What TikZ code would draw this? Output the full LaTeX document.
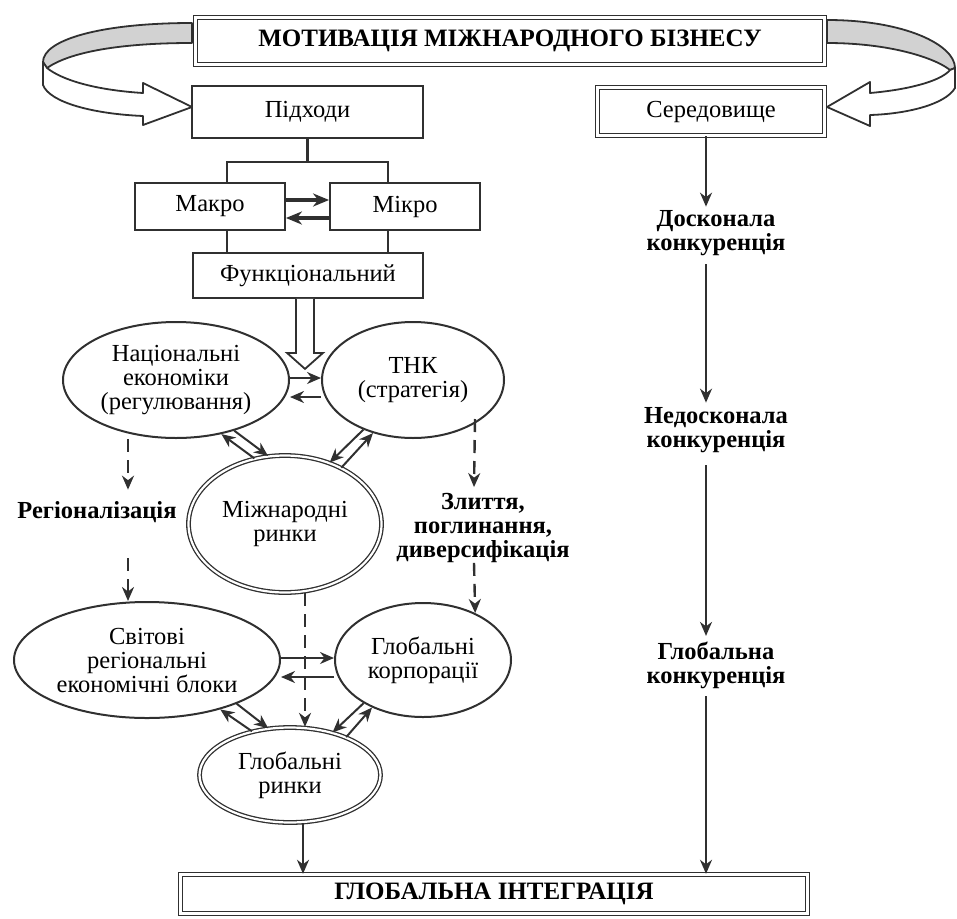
\documentclass[tikz,border=0pt]{standalone}
\usepackage{fontspec}
\setmainfont{Liberation Serif}
\usetikzlibrary{arrows.meta,shapes.geometric}
\definecolor{ink}{HTML}{303030}
\definecolor{fold}{HTML}{D2D2D2}

\begin{document}
\begin{tikzpicture}[x=1pt,y=-1pt,
  every node/.style={inner sep=0pt, align=center, font=\fontsize{24.5}{24}\selectfont},
  rbox/.style={draw=ink, line width=1.8pt, rectangle},
  dbox/.style={draw=ink, line width=1.4pt, double, double distance=2.5pt, rectangle, fill=white},
  oval/.style={draw=ink, line width=2pt, ellipse, inner sep=-14pt},
  doval/.style={draw=ink, line width=1.3pt, double, double distance=2.2pt, ellipse, inner sep=-14pt},
  caption/.style={font=\bfseries\fontsize{24.5}{24}\selectfont},
  banner/.style={font=\bfseries\fontsize{25}{24}\selectfont},
  link/.style={draw=ink, line width=2pt, -{Stealth[length=14pt,width=12pt,inset=4.5pt]}},
  heavy/.style={draw=ink, line width=3.2pt, -{Stealth[length=16pt,width=13pt,inset=5pt]}},
  dlink/.style={draw=ink, line width=2.4pt, dash pattern=on 13pt off 8pt, -{Stealth[length=14pt,width=12pt,inset=4.5pt]}},
  tree/.style={draw=ink, line width=2.2pt},
  ribbon/.style={draw=ink, line width=1.8pt, line join=round},
]
\useasboundingbox (0,0) rectangle (957,918);

% curved ribbon arrows from the title
\filldraw[ribbon, fill=fold] (192,23) .. controls (100,23) and (43,40) .. (43,62) -- (47,68)
  .. controls (70,52) and (120,43) .. (192,43) -- cycle;
\filldraw[ribbon, fill=white] (43,62) -- (43,85) .. controls (50,103) and (95,114) .. (143,116)
  -- (143,125) -- (192,107) -- (143,83) -- (143,93) .. controls (95,90) and (62,80) .. (47,68) -- cycle;
\filldraw[ribbon, fill=fold] (827,20) .. controls (905,20) and (955,45) .. (955,68) -- (950,70)
  .. controls (935,58) and (890,43) .. (827,43) -- cycle;
\filldraw[ribbon, fill=white] (955,68) -- (955,88) .. controls (945,105) and (905,114) .. (870,115)
  -- (870,126) -- (827,107) -- (870,82) -- (870,93) .. controls (905,90) and (940,82) .. (950,70) -- cycle;

% boxes
\node[dbox, minimum width=629pt, minimum height=47pt, banner] (motiv) at (510,41) {МОТИВАЦІЯ МІЖНАРОДНОГО БІЗНЕСУ};
\node[rbox, minimum width=231pt, minimum height=52pt] (pidh) at (307.5,112) {Підходи};
\node[dbox, minimum width=227pt, minimum height=48pt] (ser) at (711,111.5) {Середовище};
\node[rbox, minimum width=150pt, minimum height=47pt] (makro) at (210,206.5) {Макро};
\node[rbox, minimum width=150pt, minimum height=47pt] (mikro) at (405,206.5) {Мікро};
\node[rbox, minimum width=230pt, minimum height=45pt] (func) at (308,275.5) {Функціональний};

% ellipses
\node[oval, minimum width=226pt, minimum height=116pt] (nat) at (176,380) {Національні\\економіки\\(регулювання)};
\node[oval, minimum width=182pt, minimum height=116pt] (tnk) at (413,380) {ТНК\\(стратегія)};
\node[doval, minimum width=193pt, minimum height=137pt] (mr) at (285,524) {Міжнародні\\ринки};
\node[oval, minimum width=266pt, minimum height=116pt] (svit) at (147,660) {Світові\\регіональні\\економічні блоки};
\node[oval, minimum width=176pt, minimum height=114pt] (gk) at (423,660) {Глобальні\\корпорації};
\node[doval, minimum width=181pt, minimum height=95pt] (gr) at (290,775) {Глобальні\\ринки};
\node[dbox, minimum width=627pt, minimum height=39pt, banner] (integ) at (494,894) {ГЛОБАЛЬНА ІНТЕГРАЦІЯ};

% bold labels
\node[caption] (reg) at (97,512) {Регіоналізація};
\node[caption] (merge) at (483,528) {Злиття,\\поглинання,\\диверсифікація};
\node[caption] (k1) at (716,233.5) {Досконала\\конкуренція};
\node[caption] (k2) at (716,430.5) {Недосконала\\конкуренція};
\node[caption] (k3) at (716,665) {Глобальна\\конкуренція};

% approaches tree
\coordinate (jl) at (227,162);
\coordinate (jr) at (388,162);
\draw[tree, line width=3.2pt] (pidh.south) -- (pidh.south |- jl);
\draw[tree, line width=2.6pt] (makro.north -| jl) -- (jl) -- (jr) -- (mikro.north -| jr);
\draw[tree] (makro.south -| jl) -- (func.north -| jl);
\draw[tree] (mikro.south -| jr) -- (func.north -| jr);
\draw[heavy] ([yshift=6.5pt]makro.east) -- ([yshift=6.5pt]mikro.west);
\draw[heavy] ([yshift=-11.5pt]mikro.west) -- ([yshift=-11.5pt]makro.east);

% hollow arrow below the functional approach
\draw[ink, line width=1.8pt, fill=white] ([xshift=-12pt]func.south) -- ++(0,54) -- ++(-9,0)
  -- ++(18,16) -- ++(18,-16) -- ++(-9,0) -- ++(0,-54);

% links between ellipses
\draw[link] ([yshift=2pt]nat.east) -- ([yshift=2pt]tnk.west);
\draw[link] ([yshift=-17pt]tnk.west) -- ([yshift=-17pt]nat.east);
\draw[link] (nat.-41.4) -- (mr.104);
\draw[link] (mr.115.5) -- (nat.-50);
\draw[link] (tnk.225) -- (mr.54.5);
\draw[link] (mr.45.5) -- (tnk.233);
\draw[link] ([yshift=2pt]svit.east) -- ([yshift=2pt]gk.west);
\draw[link] ([yshift=-17pt]gk.west) -- ([yshift=-17pt]svit.east);
\draw[link] (svit.-26.6) -- (gr.115.6);
\draw[link] (gr.131.5) -- (svit.-34.9);
\draw[link] (gk.216.7) -- (gr.45.7);
\draw[link] (gr.34.6) -- (gk.223.3);

% dashed flows
\draw[dlink] ([xshift=-48pt]nat.south) -- ([xshift=31pt,yshift=11.5pt]reg.north);
\draw[dlink] ([xshift=31pt,yshift=-35.5pt]reg.south) -- ([xshift=-19pt]svit.north);
\draw[dlink] ([xshift=62pt,yshift=20pt]tnk.south) -- ([xshift=-9pt,yshift=6pt]merge.north);
\draw[dlink] ([xshift=-9pt]merge.south) -- (gk.42.4);
\draw[dlink] ([xshift=20pt]mr.south) -- ([xshift=15pt]gr.north);
\draw[link] ([xshift=13pt]gr.south) -- ([xshift=13pt]gr.south |- integ.north);

% competition column
\draw[link] ([xshift=-5pt]ser.south) -- ([xshift=-10pt,yshift=4pt]k1.north);
\draw[link] ([xshift=-10pt,yshift=-8pt]k1.south) -- ([xshift=-10pt,yshift=5pt]k2.north);
\draw[link] ([xshift=-10pt,yshift=-12pt]k2.south) -- ([xshift=-10pt,yshift=5.5pt]k3.north);
\draw[link] ([xshift=-10pt,yshift=-7.5pt]k3.south) -- ([xshift=212pt]integ.north);
\end{tikzpicture}
\end{document}
